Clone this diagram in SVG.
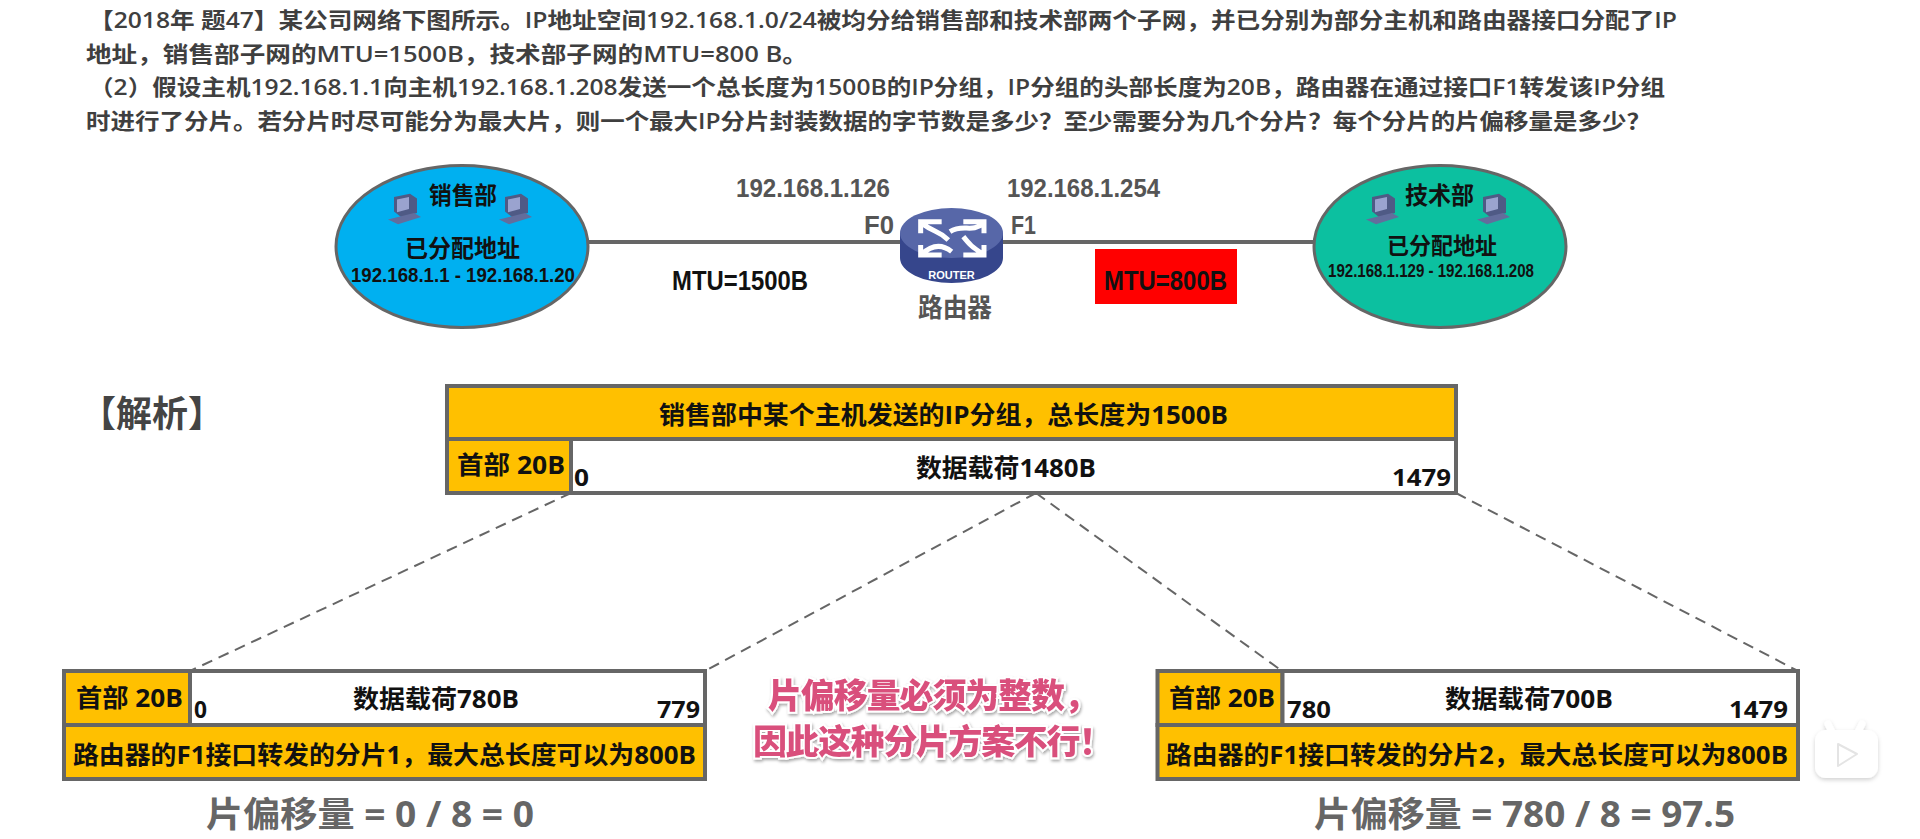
<svg xmlns="http://www.w3.org/2000/svg" width="1920" height="839" viewBox="0 0 1920 839">
<style>
text{font-family:"Liberation Sans","Noto Sans CJK SC",sans-serif;font-weight:700}
.q{font-size:22px;fill:#3f3f3f;font-family:"Open Sans","Noto Sans CJK SC",sans-serif;font-weight:600}
.box{stroke:#666;stroke-width:4}
.y{fill:#ffc000}
.w{fill:#fff}
.t{font-size:25px;fill:#111;font-family:"Open Sans","Noto Sans CJK SC",sans-serif}
.n{font-size:23px;fill:#111;font-family:"Open Sans","Noto Sans CJK SC",sans-serif}
.e{fill:#111}
.g{font-size:26px;fill:#555}
.off{font-size:35px;fill:#666;font-family:"Open Sans","Noto Sans CJK SC",sans-serif}
.dash{stroke:#666;stroke-width:2;stroke-dasharray:11 7;fill:none}
.pink{font-size:34px;fill:#d94f7c;stroke:#fff;stroke-width:4;paint-order:stroke;font-family:"Noto Sans CJK SC",sans-serif;font-weight:900;filter:url(#sh)}
.arr{stroke:#fff;stroke-width:15;fill:none}
</style>
<defs>
<filter id="sh" x="-10%" y="-20%" width="120%" height="150%"><feDropShadow dx="1" dy="2" stdDeviation="1.500" flood-color="#000" flood-opacity="0.35"/></filter>
<filter id="bs" x="-20%" y="-20%" width="140%" height="150%"><feDropShadow dx="0" dy="2" stdDeviation="2" flood-color="#000" flood-opacity="0.18"/></filter>
<g id="pc">
<path d="M-10,-20 L6,-24 L13,-18 L13,0 L-3,5 L-10,-2Z" fill="#4f5a85"/>
<path d="M-7,-17 L5,-20 L5,-5 L-7,-1Z" fill="#9aa3cf"/>
<path d="M-16,8 L10,0 L17,5 L-6,14Z" fill="#636d9c"/>
</g>
</defs>
<rect width="1920" height="839" fill="#fff"/>
<g id="question">
<text class="q" x="89" y="28" textLength="1588" lengthAdjust="spacingAndGlyphs">【2018年 题47】某公司网络下图所示。IP地址空间192.168.1.0/24被均分给销售部和技术部两个子网，并已分别为部分主机和路由器接口分配了IP</text>
<text class="q" x="86" y="62" textLength="722" lengthAdjust="spacingAndGlyphs">地址，销售部子网的MTU=1500B，技术部子网的MTU=800 B。</text>
<text class="q" x="89" y="95" textLength="1576" lengthAdjust="spacingAndGlyphs">（2）假设主机192.168.1.1向主机192.168.1.208发送一个总长度为1500B的IP分组，IP分组的头部长度为20B，路由器在通过接口F1转发该IP分组</text>
<text class="q" x="86" y="129" textLength="1565" lengthAdjust="spacingAndGlyphs">时进行了分片。若分片时尽可能分为最大片，则一个最大IP分片封装数据的字节数是多少？至少需要分为几个分片？每个分片的片偏移量是多少？</text>
</g>
<g id="connectors">
<line x1="589" y1="242" x2="905" y2="242" stroke="#666" stroke-width="4"/>
<line x1="1000" y1="242" x2="1316" y2="242" stroke="#666" stroke-width="4"/>
<line class="dash" x1="571" y1="493" x2="190" y2="671"/>
<line class="dash" x1="1036" y1="493" x2="705" y2="671"/>
<line class="dash" x1="1036" y1="493" x2="1282" y2="671"/>
<line class="dash" x1="1456" y1="493" x2="1798" y2="671"/>
</g>
<g id="sales">
<ellipse cx="462" cy="246.500" rx="126" ry="81" fill="#00b0f0" stroke="#666" stroke-width="3"/>
<use href="#pc" transform="translate(404,213) scale(1,.8)"/><use href="#pc" transform="translate(515,213) scale(1,.8)"/>
<text class="e" x="429" y="204" font-size="24" textLength="68" lengthAdjust="spacingAndGlyphs">销售部</text>
<text class="e" x="405" y="257" font-size="24" textLength="115" lengthAdjust="spacingAndGlyphs">已分配地址</text>
<text class="e" x="351" y="282" font-size="21" textLength="224" lengthAdjust="spacingAndGlyphs">192.168.1.1 - 192.168.1.20</text>
</g>
<g id="tech">
<ellipse cx="1440" cy="246.500" rx="126" ry="81" fill="#0cc0a0" stroke="#666" stroke-width="3"/>
<use href="#pc" transform="translate(1382,213) scale(1,.8)"/><use href="#pc" transform="translate(1493,213) scale(1,.8)"/>
<text class="e" x="1405" y="204" font-size="24" textLength="69" lengthAdjust="spacingAndGlyphs">技术部</text>
<text class="e" x="1387" y="254" font-size="23" textLength="110" lengthAdjust="spacingAndGlyphs">已分配地址</text>
<text class="e" x="1328" y="277" font-size="19" textLength="206" lengthAdjust="spacingAndGlyphs">192.168.1.129 - 192.168.1.208</text>
</g>
<g id="router">
<path d="M900,233 L900,258 A51.500 25 0 0 0 1003,258 L1003,233Z" fill="#36468c"/>
<ellipse cx="951.500" cy="233" rx="51.500" ry="25" fill="#5767a8"/>
<g transform="translate(880,195) scale(.3333)">
<path class="arr" d="M185,80 H122 V115 M125,85 C165,115 175,105 205,135"/>
<path class="arr" d="M250,80 H312 V115 M310,85 C275,115 250,85 210,110"/>
<path class="arr" d="M122,150 V180 H185 M125,178 C160,145 190,150 215,170"/>
<path class="arr" d="M312,150 V180 H250 M310,178 C275,155 270,150 250,125"/>
</g>
<text x="951.500" y="279" font-size="11" fill="#fff" text-anchor="middle">ROUTER</text>
<text x="918" y="317" class="g" font-size="25" textLength="74" lengthAdjust="spacingAndGlyphs">路由器</text>
</g>
<g id="labels">
<text class="g" x="736" y="197" textLength="154" lengthAdjust="spacingAndGlyphs">192.168.1.126</text>
<text class="g" x="864" y="234" textLength="30" lengthAdjust="spacingAndGlyphs">F0</text>
<text class="g" x="1007" y="197" textLength="153" lengthAdjust="spacingAndGlyphs">192.168.1.254</text>
<text class="g" x="1011" y="234" textLength="25" lengthAdjust="spacingAndGlyphs">F1</text>
<text class="e" x="672" y="290" font-size="28" textLength="136" lengthAdjust="spacingAndGlyphs">MTU=1500B</text>
<rect x="1095" y="249" width="142" height="55" fill="#ff0000"/>
<text class="e" x="1104" y="290" font-size="28" textLength="123" lengthAdjust="spacingAndGlyphs">MTU=800B</text>
<text x="80" y="427" font-size="36" fill="#444" font-family="Noto Sans CJK SC" textLength="144" lengthAdjust="spacingAndGlyphs">【解析】</text>
</g>
<g id="packet">
<rect class="box y" x="447" y="386" width="1009" height="53"/>
<rect class="box y" x="447" y="439" width="124" height="54"/>
<rect class="box w" x="571" y="439" width="885" height="54"/>
<text class="t" x="659" y="424" font-size="26" textLength="569" lengthAdjust="spacingAndGlyphs">销售部中某个主机发送的IP分组，总长度为1500B</text>
<text class="t" x="457" y="474" textLength="108" lengthAdjust="spacingAndGlyphs">首部 20B</text>
<text class="t" x="916" y="477" textLength="180" lengthAdjust="spacingAndGlyphs">数据载荷1480B</text>
<text class="n" x="574" y="486" textLength="15" lengthAdjust="spacingAndGlyphs">0</text>
<text class="n" x="1392" y="486" textLength="59" lengthAdjust="spacingAndGlyphs">1479</text>
</g>
<g id="fragment1">
<rect class="box y" x="64" y="671" width="126" height="54"/>
<rect class="box w" x="190" y="671" width="515" height="54"/>
<rect class="box y" x="64" y="725" width="641" height="54"/>
<text class="t" x="76" y="707" textLength="107" lengthAdjust="spacingAndGlyphs">首部 20B</text>
<text class="t" x="353" y="708" textLength="166" lengthAdjust="spacingAndGlyphs">数据载荷780B</text>
<text class="n" x="194" y="718" textLength="13" lengthAdjust="spacingAndGlyphs">0</text>
<text class="n" x="657" y="718" textLength="43" lengthAdjust="spacingAndGlyphs">779</text>
<text class="t" x="73" y="764" textLength="623" lengthAdjust="spacingAndGlyphs">路由器的F1接口转发的分片1，最大总长度可以为800B</text>
<text class="off" x="206" y="827" textLength="328" lengthAdjust="spacingAndGlyphs">片偏移量 = 0 / 8 = 0</text>
</g>
<g id="fragment2">
<rect class="box y" x="1157.500" y="671" width="125" height="54"/>
<rect class="box w" x="1282.500" y="671" width="515.500" height="54"/>
<rect class="box y" x="1157.500" y="725" width="640.500" height="54"/>
<text class="t" x="1169" y="707" textLength="106" lengthAdjust="spacingAndGlyphs">首部 20B</text>
<text class="t" x="1445" y="708" textLength="168" lengthAdjust="spacingAndGlyphs">数据载荷700B</text>
<text class="n" x="1287" y="718" textLength="44" lengthAdjust="spacingAndGlyphs">780</text>
<text class="n" x="1729" y="718" textLength="59" lengthAdjust="spacingAndGlyphs">1479</text>
<text class="t" x="1166" y="764" textLength="622" lengthAdjust="spacingAndGlyphs">路由器的F1接口转发的分片2，最大总长度可以为800B</text>
<text class="off" x="1314" y="827" textLength="421" lengthAdjust="spacingAndGlyphs">片偏移量 = 780 / 8 = 97.5</text>
</g>
<g id="note">
<text class="pink" x="768" y="708" textLength="330">片偏移量必须为整数，</text>
<text class="pink" x="753" y="754" textLength="360">因此这种分片方案不行！</text>
</g>
<g id="badge" filter="url(#bs)">
<path d="M1832,732 L1828,724 M1858,732 L1862,724" stroke="#fff" stroke-width="7" stroke-linecap="round"/>
<rect x="1815" y="730" width="63" height="48" rx="11" fill="#fff"/>
<path d="M1838,744 L1857,754 L1838,766Z" fill="#fff" stroke="#e4e4e4" stroke-width="2" stroke-linejoin="round"/>
</g>
</svg>
